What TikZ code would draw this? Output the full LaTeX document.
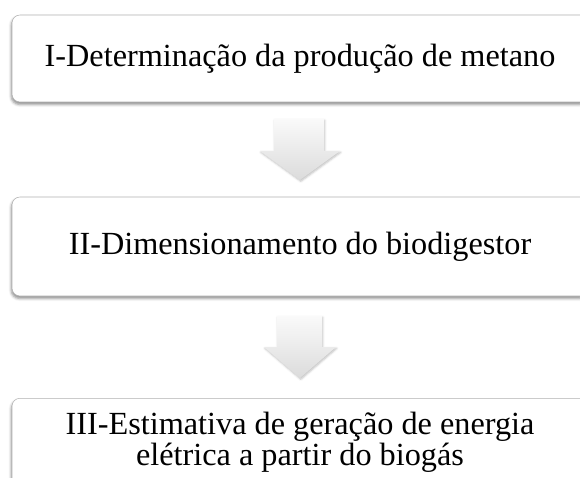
\documentclass[tikz,border=0pt]{standalone}
\usepackage{fontspec}
\setmainfont{Liberation Serif}
\usetikzlibrary{shadows.blur}
\begin{document}
\begin{tikzpicture}[x=0.75pt,y=-0.75pt,
        etapa/.style={draw=gray!60,fill=white,rounded corners=6pt,
            minimum width=432pt,inner sep=0pt,align=center,
            font=\fontsize{24.2}{23.5}\selectfont,
            blur shadow={shadow xshift=-0.5pt,shadow yshift=-1.8pt,
                shadow blur radius=2pt,shadow opacity=45}},
        seta/.style={top color=gray!4,bottom color=gray!28,
            blur shadow={shadow xshift=0.6pt,shadow yshift=-1pt,
                shadow blur radius=1.5pt,shadow opacity=25}}]
    \useasboundingbox (0,0) rectangle (580,477);

    \node[etapa,minimum height=65.25pt] (I) at (300,58.5)
        {I-Determinação da produção de metano};
    \node[etapa,minimum height=74.25pt] (II) at (300,246.5)
        {II-Dimensionamento do biodigestor};
    \node[etapa,minimum height=66pt,anchor=north] (III) at (300,398)
        {III-Estimativa de geração de energia\\elétrica a partir do biogás};

    \shade[seta] (274,119) -- (324,119) -- (324,151) -- (340,151)
        -- (300,180) -- (260,151) -- (274,151) -- cycle;
    \shade[seta] (277,316) -- (322,316) -- (322,347) -- (336,347)
        -- (300,378) -- (264,347) -- (277,347) -- cycle;
\end{tikzpicture}
\end{document}
